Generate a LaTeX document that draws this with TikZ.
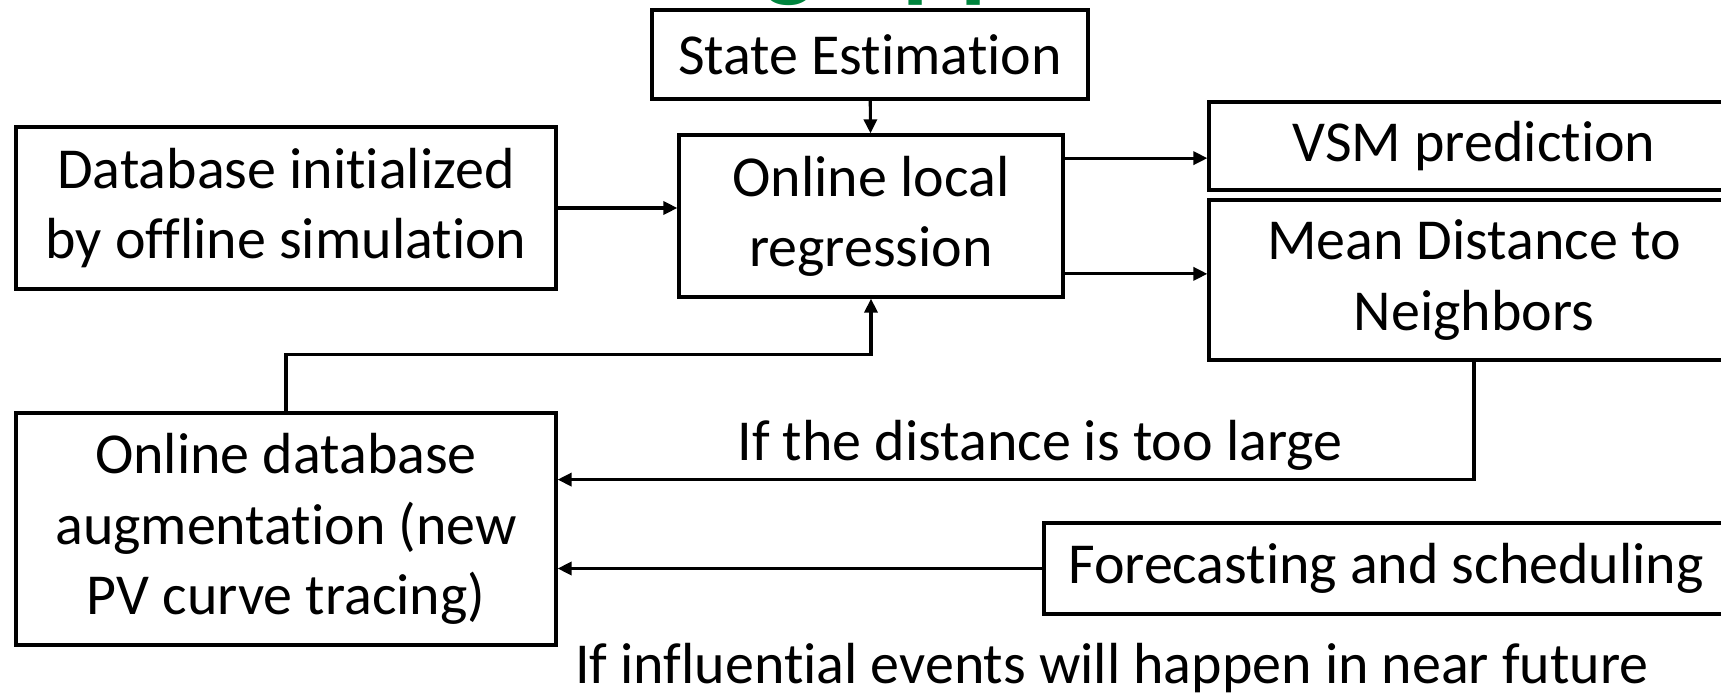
\documentclass[tikz,border=0pt]{standalone}
\usepackage{fontspec}
\setmainfont{Carlito}[Ligatures=NoCommon]
\usetikzlibrary{arrows.meta,calc}
\definecolor{judulhijau}{RGB}{0,132,61}
\tikzset{
  kotak/.style={draw, line width=1.9pt, align=center, inner sep=0pt},
  panah/.style={line width=1.8pt, -{Triangle[length=8pt,width=7.5pt]}},
}
\begin{document}
\begin{tikzpicture}[x=0.02cm,y=-0.02cm,font=\fontsize{33}{40}\selectfont]
    \useasboundingbox (0,0) rectangle (1721,693);
    \clip (0,0) rectangle (1721,693);

    % Sisa judul di atas (terpotong)
    \node[anchor=base, text=judulhijau, font=\fontsize{61}{72}\selectfont\bfseries] (jdg) at (790,-12) {g};
    \node[anchor=base, text=judulhijau, font=\fontsize{61}{72}\selectfont\bfseries] (jdpp) at (960,-11) {pp};

    % Kotak-kotak
    \node[kotak, minimum width=8.72cm, minimum height=1.78cm] (se) at (870,54.5) {State Estimation};
    \node[kotak, minimum width=7.68cm, minimum height=3.24cm] (olr) at (871,216) {Online local\\regression};
    \node[kotak, minimum width=10.8cm, minimum height=3.24cm] (db) at (286,208) {Database initialized\\by offline simulation};
    \node[kotak, minimum width=10.6cm, minimum height=1.76cm] (vsm) at (1474,146) {VSM prediction};
    \node[kotak, minimum width=10.6cm, minimum height=3.2cm] (mdn) at (1474,280) {Mean Distance to\\Neighbors};
    \node[kotak, minimum width=10.8cm, minimum height=4.64cm] (oda) at (286,529) {Online database\\augmentation (new\\PV curve tracing)};
    \node[kotak, minimum width=13.68cm, minimum height=1.82cm] (fs) at (1386,568.5) {Forecasting and scheduling};

    % Label kondisi
    \node[anchor=base] (lbjarak) at (1040,460) {If the distance is too large};
    \node[anchor=base] (lbevent) at (1112,683) {If influential events will happen in near future};

    % Panah-panah
    \draw[panah] (se) -- (olr);
    \draw[panah] (db.east) -- (db.east -| olr.west);
    \coordinate (oa) at ($(olr.north east)!0.15!(olr.south east)$);
    \coordinate (ob) at ($(olr.north east)!0.85!(olr.south east)$);
    \draw[panah] (oa) -- (oa -| vsm.west);
    \draw[panah] (ob) -- (ob -| mdn.west);
    \draw[panah] (oda.north) -- ++(0,-57) -| (olr.south);
    \draw[panah] (mdn.south) |- ($(oda.north east)!0.29!(oda.south east)$);
    \draw[panah] (fs.west) -- (fs.west -| oda.east);

\end{tikzpicture}
\end{document}
